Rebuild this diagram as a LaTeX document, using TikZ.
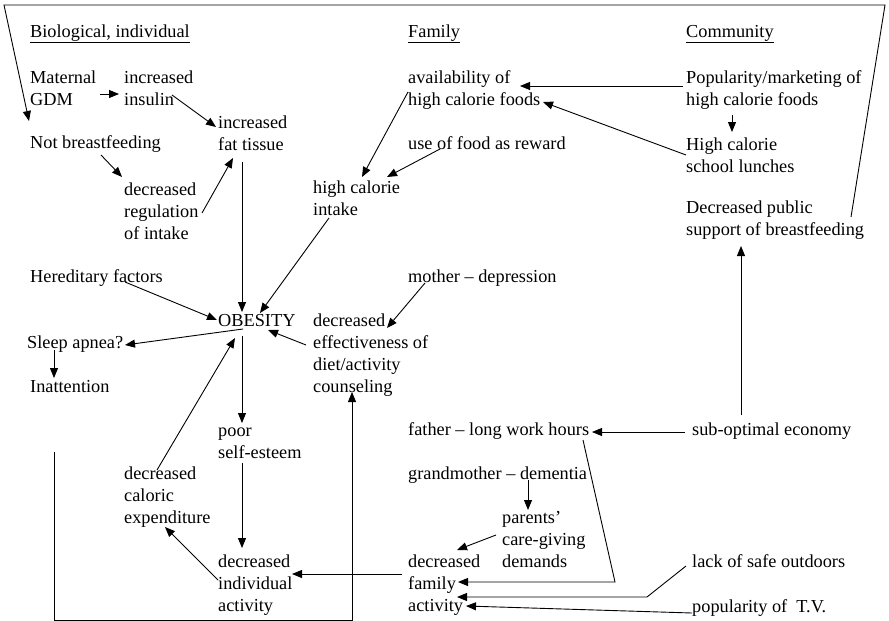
\documentclass[tikz,border=0pt]{standalone}
\usepackage{fontspec}
\setmainfont{Liberation Serif}
\usetikzlibrary{arrows.meta}

\tikzset{
  lbl/.style={anchor=base west, inner sep=0pt,
    font=\fontsize{18.3}{22}\selectfont},
  arr/.style={draw=black, line width=0.9pt,
    -{Triangle[length=10pt,width=8pt]}},
}
% stacked lines whose baseline is that of the first line
\newcommand{\lines}[1]{\begin{tabular}[t]{@{}l@{}}#1\end{tabular}}
% point at offset (dx,dy) from a node's base west anchor
\newcommand{\at}[3]{([shift={(#2,#3)}]#1.base west)}

\begin{document}
\begin{tikzpicture}[x=1pt,y=-1pt]
\useasboundingbox (0,0) rectangle (889,621);

% column headings
\node[lbl] (hbio) at (30,37) {\underline{Biological, individual}};
\node[lbl] (hfam) at (408,37) {\underline{Family}};
\node[lbl] (hcom) at (686,37) {\underline{Community}};

% biological, individual
\node[lbl] (gdm) at (30,83) {\lines{Maternal\\GDM}};
\node[lbl] (insulin) at (124,83) {\lines{increased\\insulin}};
\node[lbl] (fat) at (218,128) {\lines{increased\\fat tissue}};
\node[lbl] (nobf) at (30,148) {Not breastfeeding};
\node[lbl] (reg) at (124,195) {\lines{decreased\\regulation\\of intake}};
\node[lbl] (hered) at (30,282) {Hereditary factors};
\node[lbl] (obesity) at (218,326) {OBESITY};
\node[lbl] (apnea) at (27,348) {Sleep apnea?};
\node[lbl] (inatt) at (30,392) {Inattention};
\node[lbl] (esteem) at (218,436) {\lines{poor\\self-esteem}};
\node[lbl] (caloric) at (124,479) {\lines{decreased\\caloric\\expenditure}};
\node[lbl] (indiv) at (218,567) {\lines{decreased\\individual\\activity}};

% family
\node[lbl] (avail) at (408,83) {\lines{availability of\\high calorie foods}};
\node[lbl] (reward) at (408,149) {use of food as reward};
\node[lbl] (intake) at (313,193) {\lines{high calorie\\intake}};
\node[lbl] (mother) at (408,282) {mother – depression};
\node[lbl] (counsel) at (313,326) {\lines{decreased\\effectiveness of\\diet/activity\\counseling}};
\node[lbl] (father) at (408,435) {father – long work hours};
\node[lbl] (grandma) at (408,479) {grandmother – dementia};
\node[lbl] (parents) at (502,523) {\lines{parents’\\care-giving\\demands}};
\node[lbl] (family) at (408,567) {\lines{decreased\\family\\activity}};

% community
\node[lbl] (market) at (686,83) {\lines{Popularity/marketing of\\high calorie foods}};
\node[lbl] (lunch) at (686,150) {\lines{High calorie\\school lunches}};
\node[lbl] (support) at (686,213) {\lines{Decreased public\\support of breastfeeding}};
\node[lbl] (economy) at (692,435) {sub-optimal economy};
\node[lbl] (outdoors) at (692,567) {lack of safe outdoors};
\node[lbl] (tv) at (692,612) {popularity of~~T.V.};

% corner points of the routed connectors
\coordinate (topright) at (885,5);
\coordinate (topleft) at (4,5);

% links, biological column
\draw[arr] \at{gdm}{70}{11} -- \at{insulin}{-5}{11};
\draw[arr] \at{insulin}{48}{12} -- \at{fat}{-2}{-1};
\draw[arr] \at{nobf}{71}{7} -- \at{reg}{-2}{-18};
\draw[arr] \at{reg}{78}{18} -- \at{fat}{15}{30};
\draw[arr] \at{fat}{24}{34} -- \at{obesity}{24}{-14};
\draw[arr] \at{hered}{95}{0} -- \at{obesity}{-1}{-6};
\draw[arr] \at{obesity}{25}{3} -- \at{apnea}{98}{-3};
\draw[arr] \at{apnea}{27}{2} -- \at{inatt}{24}{-14};
\draw[arr] \at{obesity}{24}{10} -- \at{esteem}{24}{-13};
\draw[arr] \at{caloric}{33}{-9} -- \at{obesity}{17}{12};
\draw[arr] \at{esteem}{24}{27} -- \at{indiv}{24}{-19};
\draw[arr] \at{indiv}{0}{13} -- \at{caloric}{41}{48};

% links, family column
\draw[arr] \at{avail}{0}{9} -- \at{intake}{49}{-16};
\draw[arr] \at{reward}{32}{0} -- \at{intake}{74}{-16};
\draw[arr] \at{intake}{16}{25} -- \at{obesity}{42}{-13};
\draw[arr] \at{mother}{17}{1} -- \at{counsel}{74}{2};
\draw[arr] \at{counsel}{-7}{19} -- \at{obesity}{50}{4};
\draw[arr] \at{family}{-6}{7} -- \at{indiv}{74}{7};
\draw[arr] \at{grandma}{120}{1} -- \at{parents}{26}{-13};
\draw[arr] \at{parents}{-6}{12} -- \at{family}{49}{-17};
\draw[arr] \at{father}{175}{5} -- (615,582) -- \at{family}{50}{15};

% links, community column
\draw[arr] \at{market}{-3}{3} -- \at{avail}{112}{3};
\draw[arr] \at{market}{46}{32} -- \at{lunch}{46}{-18};
\draw[arr] \at{lunch}{0}{5} -- \at{avail}{135}{19};
\draw[arr] \at{economy}{49}{-20} -- \at{support}{55}{33};
\draw[arr] \at{economy}{-7}{-3} -- \at{father}{184}{-3};
\draw[arr] \at{outdoors}{-6}{-1} -- (647,597) -- \at{family}{49}{30};
\draw[arr] \at{tv}{0}{1} -- \at{family}{58}{39};

% long routed links
\draw[arr] \at{support}{165}{4} -- (topright) -- (topleft) -- \at{nobf}{-1}{-27};
\draw[arr] \at{inatt}{24}{60} -- (54,620.5) -- (352,620.5) -- \at{counsel}{39}{66};
\end{tikzpicture}
\end{document}
